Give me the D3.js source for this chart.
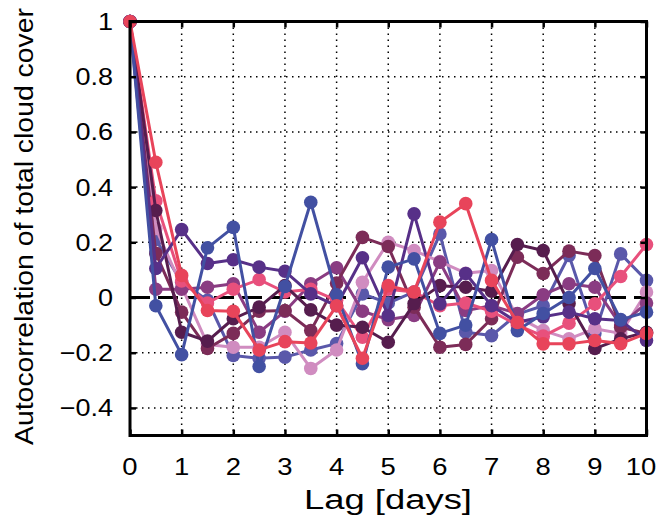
<!DOCTYPE html>
<html>
<head>
<meta charset="utf-8">
<script src="https://cdn.jsdelivr.net/npm/d3@7"></script>
<style>
  html, body { margin: 0; padding: 0; background: #fff; }
  text { font-family: "Liberation Sans", Arial, Helvetica, sans-serif; fill: #000; }
</style>
</head>
<body>
<svg id="chart" width="659" height="520"></svg>
<script>
// Lag in days (0 to 10 every half day)
const lags = [0, 0.5, 1, 1.5, 2, 2.5, 3, 3.5, 4, 4.5, 5, 5.5, 6, 6.5, 7, 7.5, 8, 8.5, 9, 9.5, 10];

// Autocorrelation of total cloud cover, one series per station
const seriesNames = ["medblue", "lightpink", "magenta", "maroon", "pink", "darkpurple", "purple", "blue", "red"];
const seriesColors = ["#5a58aa", "#d08cc0", "#8a3c82", "#7c2c58", "#e8507c", "#561d4e", "#573088", "#4250a2", "#e8445a"];

const medblue    = [1, 0.21, 0.055, -0.01, -0.21, -0.22, -0.216, -0.19, -0.167, 0.013, -0.02, 0.02, 0.23, -0.126, -0.138, -0.06, -0.03, 0.152, -0.13, 0.158, 0.062];
const lightpink  = [1, 0.25, 0.04, -0.17, -0.18, -0.18, -0.126, -0.257, -0.19, 0.055, 0.2, 0.17, 0.13, 0.088, 0.098, -0.07, -0.12, -0.15, -0.113, -0.13, 0.02];
const magenta    = [1, 0.03, 0.03, 0.037, 0.05, -0.126, -0.05, 0.05, 0.108, -0.05, -0.08, -0.065, 0.128, -0.047, -0.03, -0.058, 0.01, 0.05, 0.037, -0.1, -0.02];
const maroon     = [1, 0.16, -0.053, -0.185, -0.13, -0.05, -0.047, -0.12, 0.052, 0.218, 0.185, -0.035, -0.18, -0.17, -0.077, 0.146, 0.087, 0.168, 0.152, -0.108, -0.13];
const pink       = [1, 0.35, 0.06, -0.02, 0.03, 0.065, 0.02, 0.03, -0.01, -0.144, 0.03, 0.02, -0.03, -0.02, -0.05, -0.1, -0.14, -0.093, -0.023, 0.076, 0.192];
const darkpurple = [1, 0.315, -0.126, -0.158, -0.077, -0.035, 0.043, -0.045, -0.1, -0.108, -0.162, -0.022, 0.043, 0.037, 0.023, 0.192, 0.17, -0.022, -0.185, -0.15, -0.126];
const purple     = [1, 0.105, 0.246, 0.123, 0.137, 0.11, 0.095, 0.013, -0.03, 0.144, -0.065, 0.303, -0.023, 0.087, -0.03, -0.09, -0.07, -0.053, -0.077, -0.083, -0.156];
const blue       = [1, -0.03, -0.207, 0.18, 0.254, -0.25, 0.04, 0.345, 0.01, -0.24, 0.11, 0.14, -0.13, -0.1, 0.21, -0.12, -0.058, 0.0, 0.105, -0.08, -0.053];
const red        = [1, 0.49, 0.08, -0.047, -0.05, -0.19, -0.16, -0.165, -0.03, -0.22, 0.043, 0.02, 0.273, 0.34, 0.062, -0.09, -0.168, -0.168, -0.156, -0.167, -0.13];

const seriesValues = [medblue, lightpink, magenta, maroon, pink, darkpurple, purple, blue, red];

// Axis ticks
const xTicks = [0, 1, 2, 3, 4, 5, 6, 7, 8, 9, 10];
const yTicks = [-0.4, -0.2, 0, 0.2, 0.4, 0.6, 0.8, 1];
const xLabel = "Lag [days]";
const yLabel = "Autocorrelation of total cloud cover";

const svg = d3.select("#chart");
const plotLeft = 130, plotRight = 646.5, plotTop = 21.5, plotBottom = 435.5;

const x = d3.scaleLinear().domain([0, 10]).range([plotLeft, plotRight]);
const y = d3.scaleLinear().domain([-0.5, 1]).range([plotBottom, plotTop]);

const fmt = v => v === 0 ? "0" : (v === 1 ? "1" : d3.format(".1f")(v).replace("-", "\u2212"));

// Dotted grid
const grid = svg.append("g");
grid.selectAll("line.gx").data(xTicks.slice(1, -1)).join("line")
  .attr("x1", d => x(d)).attr("x2", d => x(d))
  .attr("y1", plotTop).attr("y2", plotBottom)
  .attr("stroke", "#000").attr("stroke-width", 1.5)
  .attr("stroke-dasharray", "1.5,4.5");
grid.selectAll("line.gy").data(yTicks.filter(v => v !== 0 && v !== 1)).join("line")
  .attr("x1", plotLeft).attr("x2", plotRight)
  .attr("y1", d => y(d)).attr("y2", d => y(d))
  .attr("stroke", "#000").attr("stroke-width", 1.5)
  .attr("stroke-dasharray", "1.5,4.5");

// Zero reference line
svg.append("line")
  .attr("x1", plotLeft).attr("x2", plotRight)
  .attr("y1", y(0)).attr("y2", y(0))
  .attr("stroke", "#000").attr("stroke-width", 3)
  .attr("stroke-dasharray", "20,8");

// Series lines and markers
const line = d3.line().x((d, i) => x(lags[i])).y(d => y(d));
seriesValues.forEach((vals, k) => {
  const g = svg.append("g").attr("class", "series-" + seriesNames[k]);
  g.append("path")
    .attr("d", line(vals))
    .attr("fill", "none")
    .attr("stroke", seriesColors[k])
    .attr("stroke-width", 3)
    .attr("stroke-linejoin", "round");
  g.selectAll("circle").data(vals).join("circle")
    .attr("cx", (d, i) => x(lags[i]))
    .attr("cy", d => y(d))
    .attr("r", 6.8)
    .attr("fill", seriesColors[k]);
});

// Axes with inward ticks on all four sides
const tickLen = 6;
const bottomAxis = d3.axisBottom(x).tickValues(xTicks).tickSize(-tickLen).tickFormat("");
const topAxis = d3.axisTop(x).tickValues(xTicks).tickSize(-tickLen).tickFormat("");
const leftAxis = d3.axisLeft(y).tickValues(yTicks).tickSize(-tickLen).tickFormat("");
const rightAxis = d3.axisRight(y).tickValues(yTicks).tickSize(-tickLen).tickFormat("");

function styleAxis(g) {
  g.select(".domain").remove();
  g.selectAll(".tick line").attr("stroke", "#000").attr("stroke-width", 2.5);
}
svg.append("g").attr("transform", `translate(0,${plotBottom})`).call(bottomAxis).call(styleAxis);
svg.append("g").attr("transform", `translate(0,${plotTop})`).call(topAxis).call(styleAxis);
svg.append("g").attr("transform", `translate(${plotLeft},0)`).call(leftAxis).call(styleAxis);
svg.append("g").attr("transform", `translate(${plotRight},0)`).call(rightAxis).call(styleAxis);

// Frame
svg.append("rect")
  .attr("x", plotLeft).attr("y", plotTop)
  .attr("width", plotRight - plotLeft).attr("height", plotBottom - plotTop)
  .attr("fill", "none").attr("stroke", "#000").attr("stroke-width", 3);

// Tick labels (slightly widened glyphs); the last x label is kept inside the canvas
svg.append("g").selectAll("text").data(xTicks).join("text")
  .attr("transform", d => `translate(${Math.min(x(d), 641)},475) scale(1.12,1)`)
  .attr("text-anchor", "middle")
  .attr("font-size", 24.5)
  .text(d => d);
svg.append("g").selectAll("text").data(yTicks).join("text")
  .attr("transform", d => `translate(113,${y(d) + 8.5}) scale(1.15,1)`)
  .attr("text-anchor", "end")
  .attr("font-size", 23.5)
  .text(fmt);

// Axis titles
svg.append("text")
  .attr("x", 388).attr("y", 509)
  .attr("text-anchor", "middle")
  .attr("font-size", 27)
  .attr("textLength", 168)
  .attr("lengthAdjust", "spacingAndGlyphs")
  .text(xLabel);
svg.append("text")
  .attr("transform", `translate(33,${(plotTop + plotBottom) / 2 - 2}) rotate(-90)`)
  .attr("text-anchor", "middle")
  .attr("font-size", 25.5)
  .attr("textLength", 437)
  .attr("lengthAdjust", "spacingAndGlyphs")
  .text(yLabel);
</script>
</body>
</html>
